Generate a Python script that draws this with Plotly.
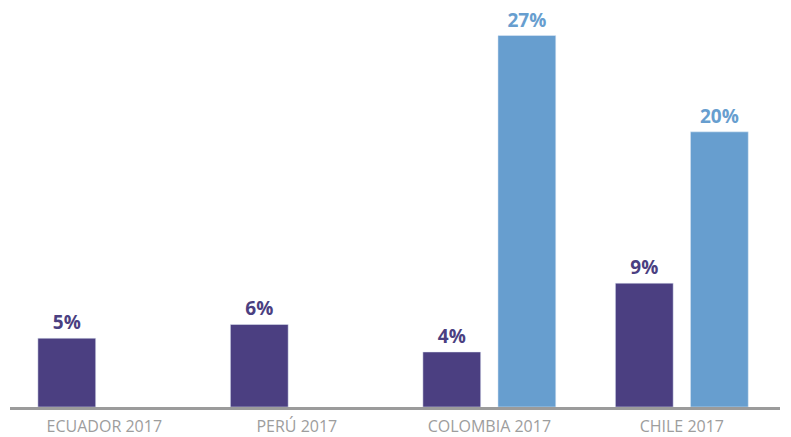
import plotly.graph_objects as go

# Categories and series values (percent)
categories = ["ECUADOR 2017", "PERÚ 2017", "COLOMBIA 2017", "CHILE 2017"]
serie_a = [5, 6, 4, 9]
serie_b = [None, None, 27, 20]

color_a = "#4b3f81"
color_b = "#679ecf"


def labels(values):
    return [f"{v}%" if v is not None else "" for v in values]


fig = go.Figure()
fig.add_trace(go.Bar(
    x=categories, y=serie_a, marker_color=color_a,
    text=labels(serie_a), textposition="outside", cliponaxis=False,
    textfont=dict(family="Open Sans", size=19, color=color_a, weight="bold"),
))
fig.add_trace(go.Bar(
    x=categories, y=serie_b, marker_color=color_b,
    text=labels(serie_b), textposition="outside", cliponaxis=False,
    textfont=dict(family="Open Sans", size=19, color=color_b, weight="bold"),
))

fig.update_layout(
    width=791, height=437,
    margin=dict(l=10, r=11, t=8, b=30, autoexpand=False),
    barmode="group", bargap=0.22, bargroupgap=0.23,
    plot_bgcolor="white", paper_bgcolor="white",
    showlegend=False,
    font=dict(family="Open Sans"),
)
fig.update_xaxes(
    showline=True, linecolor="#9b9b9b", linewidth=3,
    ticks="outside", ticklen=3, tickcolor="rgba(0,0,0,0)",
    showgrid=False, range=[-0.49, 3.51], automargin=False,
    tickfont=dict(family="Open Sans", size=16, color="#9d9d9d"),
)
fig.update_yaxes(
    range=[0, 29], visible=False, showgrid=False, zeroline=False,
    automargin=False,
)

fig.write_html("out.html")
